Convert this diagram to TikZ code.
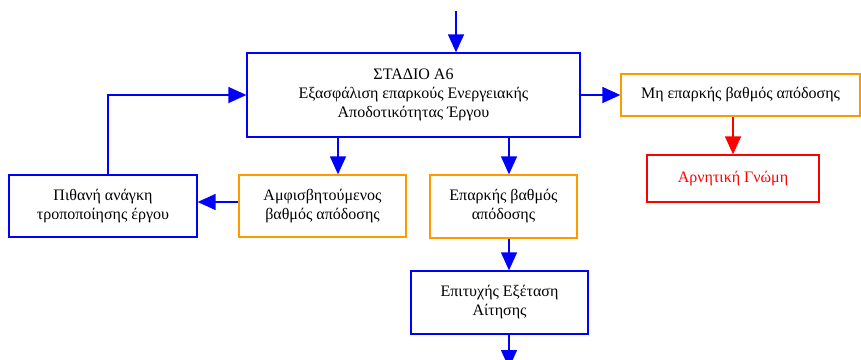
\documentclass[tikz,border=0pt]{standalone}
\usepackage{fontspec}
\setmainfont{Liberation Serif}
\usetikzlibrary{arrows.meta}
\definecolor{mplle}{RGB}{0,0,255}
\definecolor{portok}{RGB}{255,153,0}
\definecolor{kokkino}{RGB}{255,0,0}
\tikzset{
  box/.style={draw,line width=1.3pt,align=center,inner sep=2pt,
    font=\fontsize{16}{19}\selectfont},
  bluebox/.style={box,draw=mplle},
  orbox/.style={box,draw=portok},
  redbox/.style={box,draw=kokkino,text=kokkino},
  arr/.style={line width=1.4pt,-{Triangle[length=18pt,width=16pt]}}
}
\begin{document}
\begin{tikzpicture}[x=1pt,y=-1pt]
                  \clip (0,0) rectangle (861,359);
                  \node[bluebox,minimum width=333,minimum height=84] (stadio) at (413.5,95)
                      {ΣΤΑΔΙΟ Α6\\Εξασφάλιση επαρκούς Ενεργειακής\\Αποδοτικότητας Έργου};
                  \node[orbox,minimum width=239,minimum height=42] (mhepark) at (740.5,95)
                      {Μη επαρκής βαθμός απόδοσης};
                  \node[redbox,minimum width=172,minimum height=47] (arnitiki) at (733,178.5)
                      {Αρνητική Γνώμη};
                  \node[orbox,minimum width=167,minimum height=62] (amfis) at (322.5,206)
                      {Αμφισβητούμενος\\βαθμός απόδοσης};
                  \node[bluebox,minimum width=188,minimum height=62] (pithani) at (103,206)
                      {Πιθανή ανάγκη\\τροποποίησης έργου};
                  \node[orbox,minimum width=147,minimum height=63] (eparkis) at (503.5,206.5)
                      {Επαρκής βαθμός\\απόδοσης};
                  \node[bluebox,minimum width=177,minimum height=63] (epityx) at (499.5,302.5)
                      {Επιτυχής Εξέταση\\Αίτησης};
                  \coordinate (eisodos) at (456,11);
                  \coordinate (exodos) at (509,368);
                  \begin{scope}[mplle]
                          \draw[arr] (eisodos) -- (eisodos |- stadio.north);
                          \draw[arr] (stadio.east) -- (mhepark.west);
                          \draw[arr] ([xshift=15.5]amfis.north |- stadio.south) -- ([xshift=15.5]amfis.north);
                          \draw[arr] ([xshift=5.5]eparkis.north |- stadio.south) -- ([xshift=5.5]eparkis.north);
                          \draw[arr] ([yshift=4]amfis.west) -- ([yshift=4]pithani.east);
                          \draw[arr] ([xshift=5]pithani.north) |- (stadio.west);
                          \draw[arr] ([xshift=5.5]eparkis.south) -- ([xshift=5.5]eparkis.south |- epityx.north);
                          \draw[arr] (exodos |- epityx.south) -- (exodos);
                      \end{scope}
                  \draw[arr,kokkino] (arnitiki.north |- mhepark.south) -- (arnitiki.north);
              \end{tikzpicture}
\end{document}
